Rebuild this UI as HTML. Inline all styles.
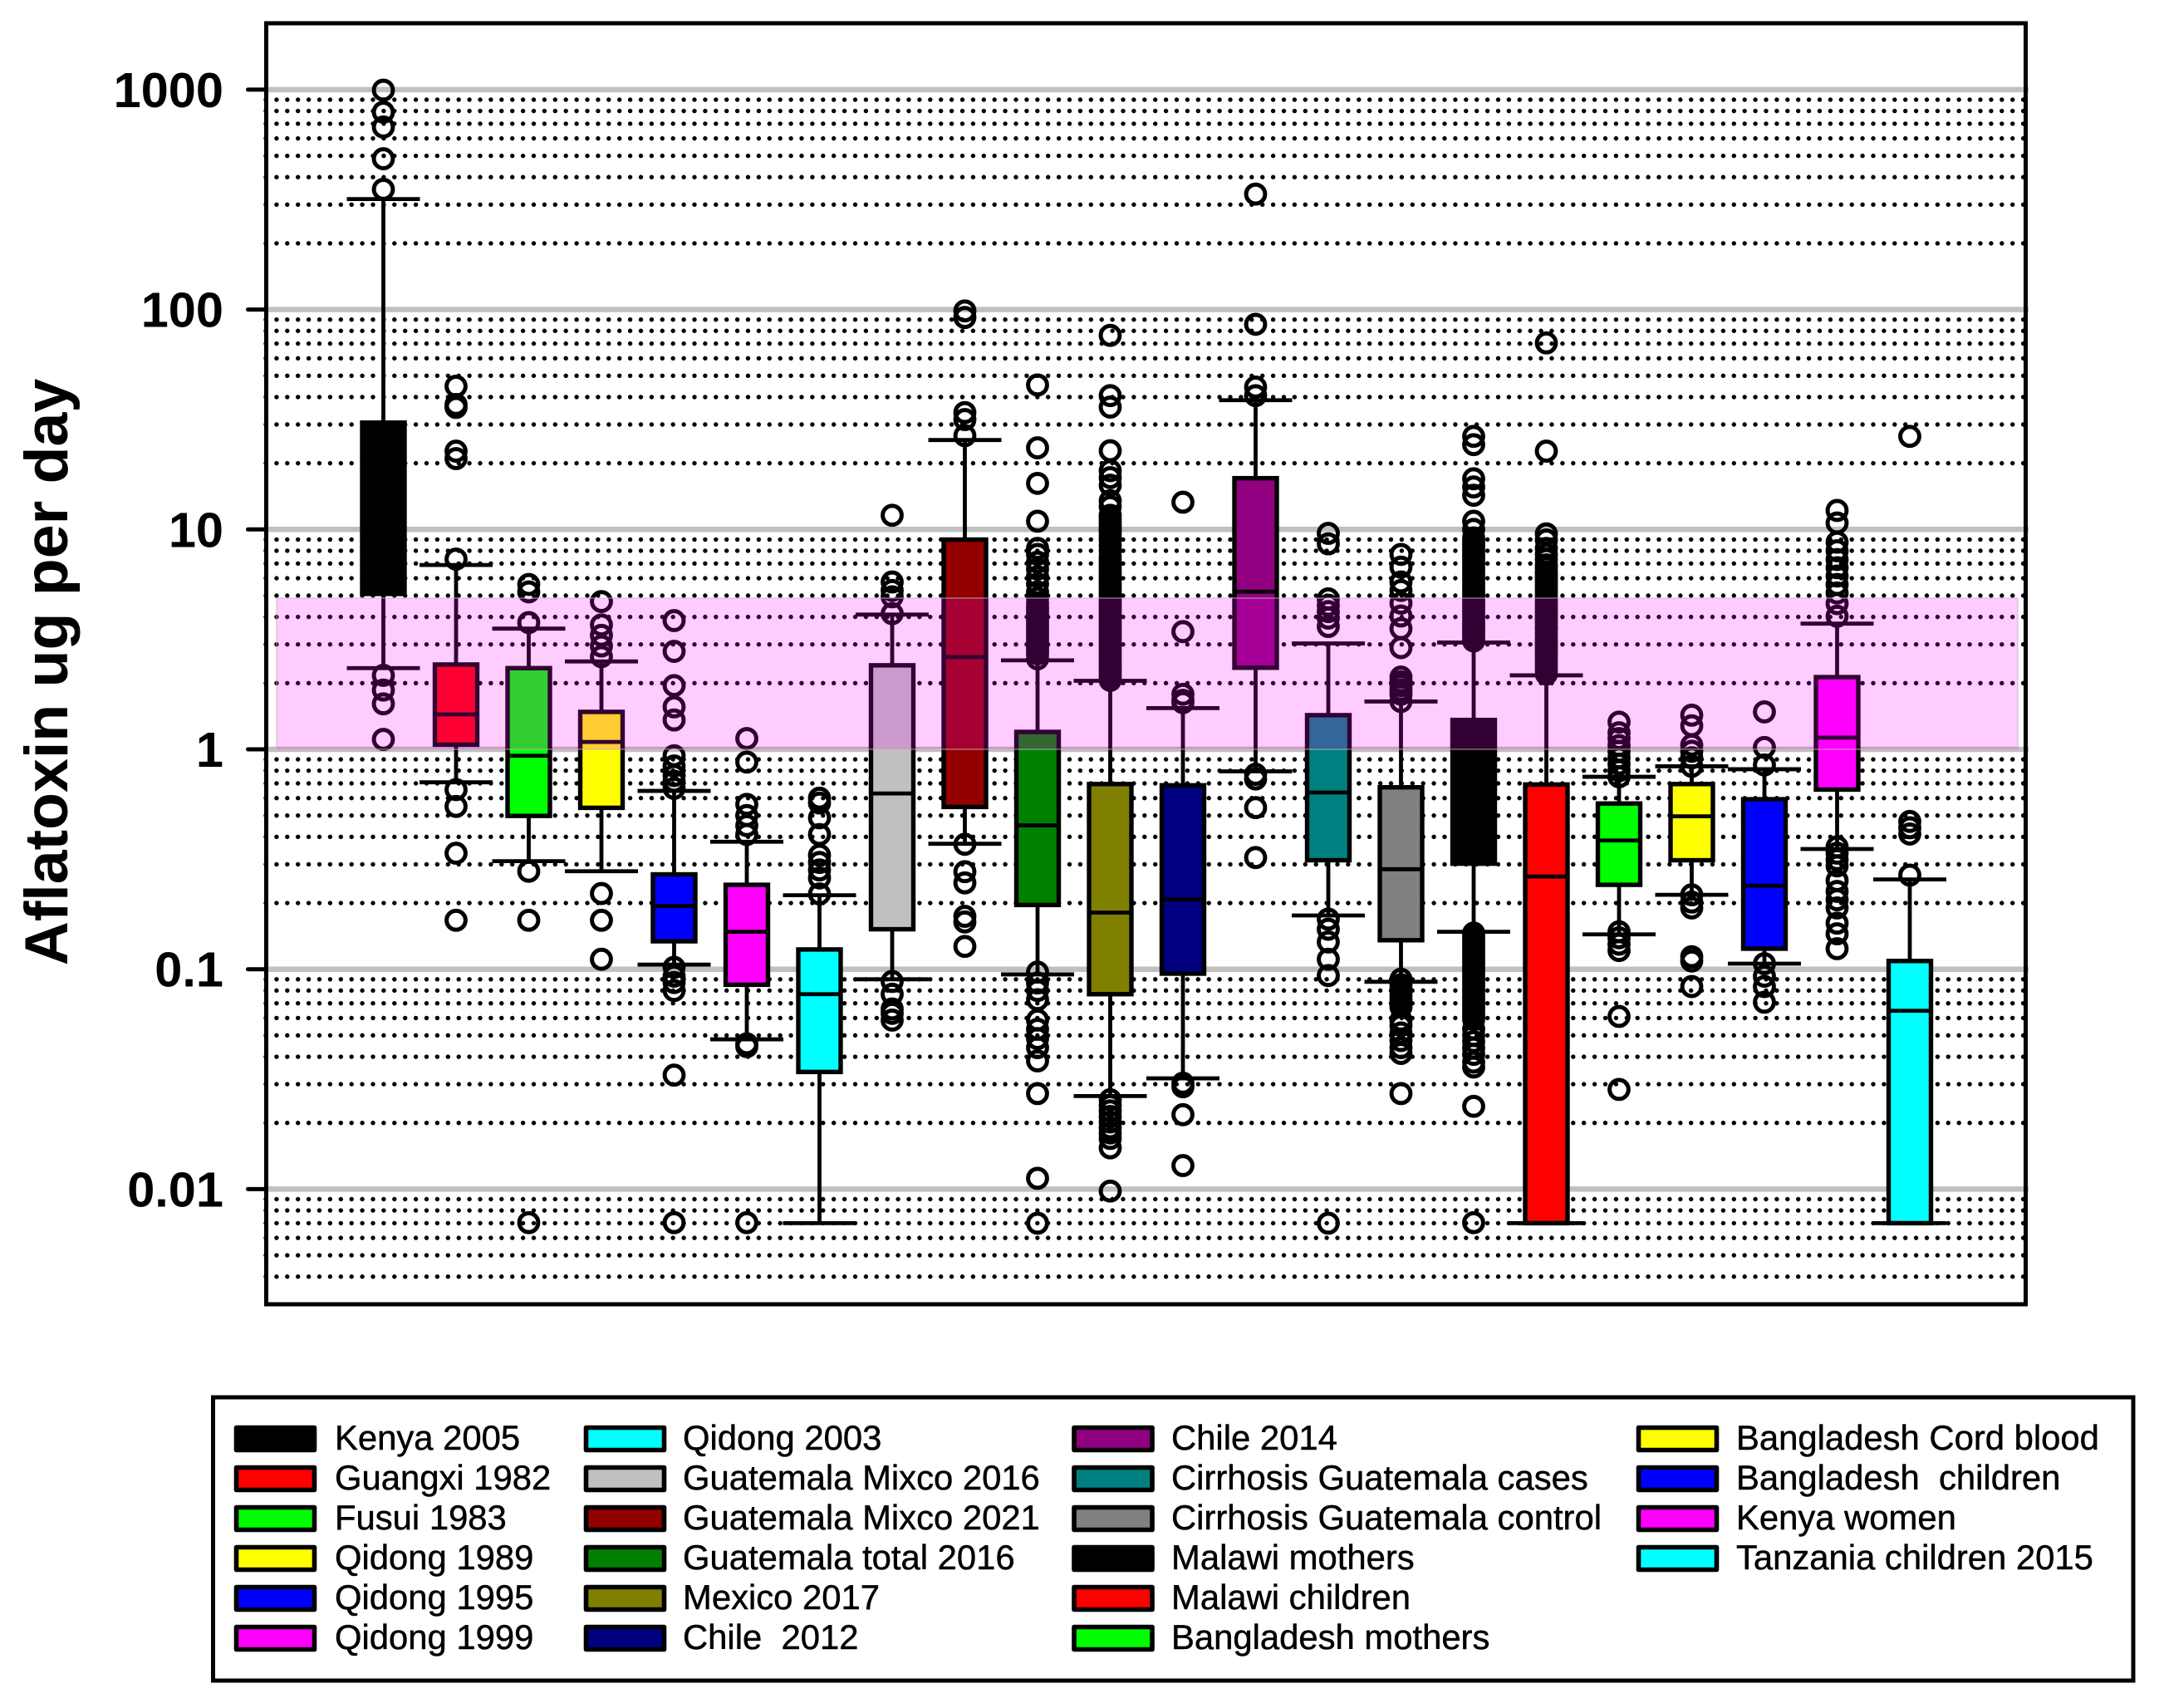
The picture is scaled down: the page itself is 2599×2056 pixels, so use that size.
<!DOCTYPE html>
<html lang="en">
<head>
<meta charset="utf-8">
<title>Aflatoxin ug per day</title>
<style>
html,body{margin:0;padding:0;background:#fff;}
svg{display:block;font-family:"Liberation Sans",Arial,sans-serif;}
.leg{font-size:41.8px;fill:#000;stroke:#000;stroke-width:0.5px;white-space:pre;}
.sw{stroke:#000;stroke-width:5.6;stroke-linejoin:round;}
</style>
</head>
<body>
<svg id="chart" xmlns="http://www.w3.org/2000/svg" width="2599" height="2056" viewBox="0 0 2599 2056">
  <rect x="0" y="0" width="2599" height="2056" fill="#fff"/>
  <g id="grid"></g>
  <g id="boxes"></g>
  <rect x="333" y="720" width="2096" height="182" fill="rgb(255,0,255)" fill-opacity="0.2" stroke="#c8b0c8" stroke-opacity="0.6" stroke-width="1.5"/>
  <rect x="320.5" y="28" width="2118" height="1542" fill="none" stroke="#000" stroke-width="5"/>
  <g id="axis"></g>
  <text transform="translate(81,809) rotate(-90)" text-anchor="middle" font-size="73.5" font-weight="700" fill="#000">Aflatoxin ug per day</text>

  <g>
    <rect x="256.5" y="1682" width="2311.5" height="341" fill="#fff" stroke="#000" stroke-width="5"/>

    <g><rect class="sw" x="284.5" y="1718.5" width="94" height="27" fill="#000"/><text class="leg" x="403" y="1745">Kenya 2005</text></g>
    <g><rect class="sw" x="284.5" y="1766.5" width="94" height="27" fill="#f00"/><text class="leg" x="403" y="1793">Guangxi 1982</text></g>
    <g><rect class="sw" x="284.5" y="1814.5" width="94" height="27" fill="#0f0"/><text class="leg" x="403" y="1841">Fusui 1983</text></g>
    <g><rect class="sw" x="284.5" y="1862.5" width="94" height="27" fill="#ff0"/><text class="leg" x="403" y="1889">Qidong 1989</text></g>
    <g><rect class="sw" x="284.5" y="1910.5" width="94" height="27" fill="#00f"/><text class="leg" x="403" y="1937">Qidong 1995</text></g>
    <g><rect class="sw" x="284.5" y="1958.5" width="94" height="27" fill="#f0f"/><text class="leg" x="403" y="1985">Qidong 1999</text></g>

    <g><rect class="sw" x="705.5" y="1718.5" width="94" height="27" fill="#0ff"/><text class="leg" x="822" y="1745">Qidong 2003</text></g>
    <g><rect class="sw" x="705.5" y="1766.5" width="94" height="27" fill="#c0c0c0"/><text class="leg" x="822" y="1793">Guatemala Mixco 2016</text></g>
    <g><rect class="sw" x="705.5" y="1814.5" width="94" height="27" fill="#920000"/><text class="leg" x="822" y="1841">Guatemala Mixco 2021</text></g>
    <g><rect class="sw" x="705.5" y="1862.5" width="94" height="27" fill="#008000"/><text class="leg" x="822" y="1889">Guatemala total 2016</text></g>
    <g><rect class="sw" x="705.5" y="1910.5" width="94" height="27" fill="#808000"/><text class="leg" x="822" y="1937">Mexico 2017</text></g>
    <g><rect class="sw" x="705.5" y="1958.5" width="94" height="27" fill="#000080"/><text class="leg" x="822" y="1985">Chile  2012</text></g>

    <g><rect class="sw" x="1293" y="1718.5" width="94" height="27" fill="#900080"/><text class="leg" x="1410" y="1745">Chile 2014</text></g>
    <g><rect class="sw" x="1293" y="1766.5" width="94" height="27" fill="#008080"/><text class="leg" x="1410" y="1793">Cirrhosis Guatemala cases</text></g>
    <g><rect class="sw" x="1293" y="1814.5" width="94" height="27" fill="#808080"/><text class="leg" x="1410" y="1841">Cirrhosis Guatemala control</text></g>
    <g><rect class="sw" x="1293" y="1862.5" width="94" height="27" fill="#000"/><text class="leg" x="1410" y="1889">Malawi mothers</text></g>
    <g><rect class="sw" x="1293" y="1910.5" width="94" height="27" fill="#f00"/><text class="leg" x="1410" y="1937">Malawi children</text></g>
    <g><rect class="sw" x="1293" y="1958.5" width="94" height="27" fill="#0f0"/><text class="leg" x="1410" y="1985">Bangladesh mothers</text></g>

    <g><rect class="sw" x="1972.5" y="1718.5" width="94" height="27" fill="#ff0"/><text class="leg" x="2090" y="1745">Bangladesh Cord blood</text></g>
    <g><rect class="sw" x="1972.5" y="1766.5" width="94" height="27" fill="#00f"/><text class="leg" x="2090" y="1793">Bangladesh  children</text></g>
    <g><rect class="sw" x="1972.5" y="1814.5" width="94" height="27" fill="#f0f"/><text class="leg" x="2090" y="1841">Kenya women</text></g>
    <g><rect class="sw" x="1972.5" y="1862.5" width="94" height="27" fill="#0ff"/><text class="leg" x="2090" y="1889">Tanzania children 2015</text></g>
  </g>
</svg>

<script>
const categories = ["Kenya 2005","Guangxi 1982","Fusui 1983","Qidong 1989","Qidong 1995","Qidong 1999","Qidong 2003","Guatemala Mixco 2016","Guatemala Mixco 2021","Guatemala total 2016","Mexico 2017","Chile 2012","Chile 2014","Cirrhosis Guatemala cases","Cirrhosis Guatemala control","Malawi mothers","Malawi children","Bangladesh mothers","Bangladesh Cord blood","Bangladesh children","Kenya women","Tanzania children 2015"];
const q3Values = [30.6,2.43,2.34,1.48,0.27,0.242,0.123,2.41,8.99,1.2,0.695,0.686,17.1,1.43,0.672,1.36,0.692,0.567,0.695,0.593,2.13,0.109];
const medianValues = [12,1.44,0.935,1.08,0.194,0.148,0.077,0.63,2.63,0.451,0.181,0.2075,5.21,0.636,0.285,0.75,0.264,0.385,0.496,0.24,1.13,0.0647];
const q1Values = [5.09,1.05,0.498,0.542,0.134,0.085,0.0341,0.152,0.547,0.196,0.077,0.0955,2.35,0.313,0.1355,0.302,0.007,0.242,0.313,0.124,0.656,0.007];
const whiskerHighValues = [318,6.89,3.54,2.51,0.647,0.38,0.217,4.1,25.5,2.54,2.05,1.54,38.7,3.03,1.65,3.06,2.17,0.75,0.837,0.812,3.73,0.256];
const whiskerLowValues = [2.34,0.708,0.31,0.279,0.105,0.048,0.007,0.09,0.372,0.0947,0.0265,0.0319,0.794,0.1756,0.0877,0.148,0.007,0.144,0.218,0.106,0.352,0.007];
const outlierValues = [
  [995,790,676,485,352,2.17,1.86,1.61,1.11],
  [44.8,37,35.9,22.7,21,7.33,0.656,0.55,0.337,0.167],
  [5.62,5.2,3.77,0.279,0.167,0.00704],
  [4.7,3.68,3.3,2.95,2.64,0.221,0.167,0.111],
  [3.85,2.79,1.95,1.56,1.36,0.935,0.84,0.76,0.716,0.665,0.102,0.093,0.087,0.08,0.033,0.00704],
  [1.12,0.875,0.562,0.5,0.45,0.41,0.0458,0.0445,0.00704],
  [0.6,0.57,0.488,0.41,0.33,0.306,0.283,0.26,0.22],
  [11.6,5.77,5.28,4.94,4.14,0.088,0.077,0.066,0.063,0.0587],
  [98.6,92,34,31.6,26.7,0.37,0.2777,0.247,0.174,0.164,0.127],
  [45.4,23.5,16.2,10.9,8.2,7.7,7.1,6.6,6.1,5.65,5.2,4.87,4.6,4.4,4.25,4.1,3.95,3.82,3.7,3.56,3.44,3.32,3.2,3.1,3,2.9,2.8,2.72,2.58,0.097,0.0866,0.08,0.0727,0.0587,0.0533,0.0484,0.044,0.0383,0.0272,0.0112,0.007],
  [76.3,40.6,36,22.8,18.5,17.2,15.9,13.5,12.7,11.6,11.2,10.8,10.4,10,9.7,9.3,8.95,8.44,8,7.5,7.24,6.99,6.75,6.52,6.3,6.08,5.87,5.67,5.48,5.29,5.11,4.93,4.76,4.6,4.44,4.29,4.14,4,3.86,3.73,3.6,3.48,3.36,3.24,3.13,3.02,2.92,2.82,2.72,2.63,2.54,2.45,2.37,2.29,2.21,2.13,2.06,0.0255,0.024,0.0227,0.0214,0.0202,0.019,0.018,0.017,0.0154,0.0098],
  [13.3,3.43,1.78,1.67,1.63,0.0303,0.0292,0.0218,0.0128],
  [335,85.7,44.4,40.6,0.77,0.733,0.543,0.322],
  [9.6,8.6,4.83,4.52,4.23,3.95,3.62,0.169,0.152,0.133,0.111,0.0936,0.007],
  [7.7,6.74,5.77,5.28,4.62,4.04,3.54,2.9,2.13,2.03,1.95,1.86,1.78,1.65,0.09,0.0851,0.0817,0.0786,0.0755,0.0727,0.07,0.0673,0.0587,0.0555,0.0513,0.0474,0.044,0.0414,0.0272],
  [26.5,24.3,17,15.6,14.3,10.9,10,9.15,8.84,8.53,8.24,7.96,7.69,7.42,7.17,6.92,6.69,6.46,6.24,6.02,5.82,5.62,5.43,5.24,5.06,4.89,4.72,4.56,4.4,4.25,4.11,3.97,3.83,3.7,3.57,3.45,3.33,3.22,3.11,0.146,0.141,0.136,0.131,0.127,0.123,0.118,0.114,0.11,0.107,0.103,0.0995,0.0961,0.0928,0.0896,0.0866,0.0836,0.0808,0.078,0.0753,0.0728,0.0703,0.0679,0.0656,0.0633,0.0612,0.0591,0.0535,0.05,0.0469,0.0438,0.041,0.0378,0.0359,0.0238,0.00704],
  [70.5,22.7,9.55,8.95,8.2,7.7,7.3,6.9,6.7,6.4,6.2,6,5.8,5.6,5.4,5.2,5,4.85,4.65,4.5,4.35,4.2,4.05,3.9,3.75,3.6,3.5,3.35,3.2,3.1,3,2.9,2.8,2.7,2.6,2.5,2.4,2.3,2.2],
  [1.33,1.19,1.12,1.04,0.98,0.915,0.857,0.8,0.75,0.148,0.139,0.13,0.1216,0.061,0.0284],
  [1.43,1.28,1.045,0.98,0.915,0.837,0.218,0.202,0.19,0.114,0.109,0.0834],
  [1.48,1.02,0.849,0.106,0.093,0.0834,0.0708],
  [12.2,10.7,8.75,8,7.3,6.7,6.14,5.62,5.14,4.6,4.03,0.36,0.337,0.315,0.295,0.253,0.226,0.207,0.19,0.162,0.145,0.124],
  [26.5,0.47,0.44,0.412,0.268]
];
const seriesColors = ["#000000","#ff0000","#00ff00","#ffff00","#0000ff","#ff00ff","#00ffff","#c0c0c0","#920000","#008000","#808000","#000080","#900080","#008080","#808080","#000000","#ff0000","#00ff00","#ffff00","#0000ff","#ff00ff","#00ffff"];
const majorTickValues = [1000,100,10,1,0.1,0.01];
const majorTickLabels = ["1000","100","10","1","0.1","0.01"];
const minorGridValues = [900,800,700,600,500,400,300,200,90,80,70,60,50,40,30,20,9,8,7,6,5,4,3,2,0.9,0.8,0.7,0.6,0.5,0.4,0.3,0.2,0.09,0.08,0.07,0.06,0.05,0.04,0.03,0.02,0.009,0.008,0.007,0.006,0.005,0.004];

const NS = "http://www.w3.org/2000/svg";
function yScale(v){ return 902 - 264.7 * Math.log10(v); }
function xScale(i){ return 461.5 + 87.5 * i; }
function slug(s){ return s.toLowerCase().replace(/\s+/g, "-"); }
function mk(tag, parent, attrs){
  const el = document.createElementNS(NS, tag);
  for (const k in attrs) el.setAttribute(k, attrs[k]);
  parent.appendChild(el);
  return el;
}

const gridG = document.getElementById("grid");
minorGridValues.forEach(function(v){
  const el = mk("line", gridG, {x1:320, x2:2437, y1:yScale(v), y2:yScale(v), stroke:"#000", "stroke-width":5.4, "stroke-linecap":"round", "stroke-dasharray":"0 12.9"});
  
  
});
majorTickValues.forEach(function(v){
  const el = mk("line", gridG, {x1:320, x2:2442, y1:yScale(v), y2:yScale(v), stroke:"#c0c0c0", "stroke-width":6.5});
  
  
});

const axisG = document.getElementById("axis");
majorTickValues.forEach(function(v, i){
  const tick = mk("line", axisG, {x1:298.5, x2:320, y1:yScale(v), y2:yScale(v), stroke:"#000", "stroke-width":5, "stroke-linecap":"round"});
  
  
  const label = mk("text", axisG, {x:269, y:yScale(v) + 21, "text-anchor":"end", "font-size":59.5, "font-weight":700, fill:"#000"});
  label.textContent = majorTickLabels[i];
  
  
});

const boxesG = document.getElementById("boxes");
categories.forEach(function(name, i){
  const cx = xScale(i);
  const g = mk("g", boxesG, {});
  
  

  const whisker = mk("line", g, {x1:cx, x2:cx, y1:yScale(whiskerHighValues[i]), y2:yScale(whiskerLowValues[i]), stroke:"#000", "stroke-width":4.8});
  
  

  const capHigh = mk("line", g, {x1:cx - 44, x2:cx + 44, y1:yScale(whiskerHighValues[i]), y2:yScale(whiskerHighValues[i]), stroke:"#000", "stroke-width":4.8});
  
  

  const capLow = mk("line", g, {x1:cx - 44, x2:cx + 44, y1:yScale(whiskerLowValues[i]), y2:yScale(whiskerLowValues[i]), stroke:"#000", "stroke-width":4.8});
  
  

  const top = yScale(q3Values[i]);
  const bottom = yScale(q1Values[i]);
  const box = mk("rect", g, {x:cx - 25.5, y:top, width:51, height:bottom - top, fill:seriesColors[i], stroke:"#000", "stroke-width":5.4});
  
  

  const med = mk("line", g, {x1:cx - 25.5, x2:cx + 25.5, y1:yScale(medianValues[i]), y2:yScale(medianValues[i]), stroke:"#000", "stroke-width":4.8});
  
  

  outlierValues[i].forEach(function(v){
    const c = mk("circle", g, {cx:cx, cy:yScale(v), r:11.4, fill:"none", stroke:"#000", "stroke-width":5});
    
    
  });
});
</script>
</body>
</html>
